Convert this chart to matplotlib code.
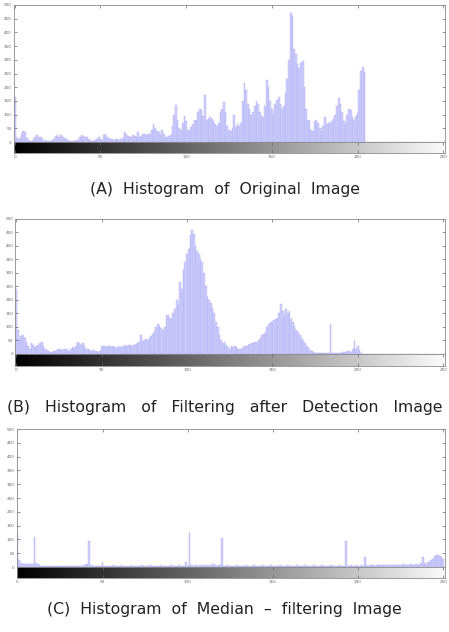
import numpy as np
import matplotlib
matplotlib.use('Agg')
import matplotlib.pyplot as plt

plt.rcParams['font.family'] = ['DejaVu Sans']

# gray levels 0..255 (one bin each)
levels = np.arange(256)

hist_a = [
    165, 20, 12, 15, 30, 40, 35, 15, 8, 5, 5, 10, 20, 25, 18, 20,
    15, 5, 8, 3, 5, 4, 6, 10, 22, 25, 20, 25, 18, 15, 10, 8,
    5, 4, 3, 5, 6, 8, 20, 25, 22, 18, 20, 12, 6, 5, 4, 8,
    10, 18, 12, 8, 25, 28, 20, 15, 12, 10, 8, 12, 10, 6, 10, 15,
    35, 30, 22, 20, 18, 25, 22, 20, 35, 20, 22, 28, 30, 25, 28, 30,
    45, 65, 50, 40, 35, 25, 45, 30, 20, 18, 22, 25, 60, 100, 135, 80,
    50, 45, 70, 95, 75, 45, 40, 55, 65, 80, 75, 110, 120, 115, 95, 170,
    80, 85, 90, 85, 75, 65, 60, 70, 110, 120, 145, 110, 60, 45, 40, 50,
    100, 55, 65, 60, 70, 150, 215, 190, 140, 120, 100, 110, 130, 150, 140, 110,
    95, 90, 130, 225, 200, 150, 120, 100, 140, 155, 165, 140, 120, 130, 180, 230,
    300, 470, 460, 340, 320, 285, 270, 290, 295, 200, 120, 80, 75, 45, 40, 75,
    80, 70, 50, 40, 60, 90, 65, 70, 68, 75, 85, 100, 130, 160, 140, 110,
    75, 65, 100, 120, 115, 90, 80, 95, 105, 190, 260, 275, 255, 0, 0, 0,
    0, 0, 0, 0, 0, 0, 0, 0, 0, 0, 0, 0, 0, 0, 0, 0,
    0, 0, 0, 0, 0, 0, 0, 0, 0, 0, 0, 0, 0, 0, 0, 0,
    0, 0, 0, 0, 0, 0, 0, 0, 0, 0, 0, 0, 0, 0, 0, 0,
]

hist_b = [
    240, 90, 55, 65, 70, 60, 45, 30, 20, 40, 35, 25, 30, 35, 40, 45,
    30, 20, 15, 10, 8, 8, 10, 12, 15, 20, 18, 15, 20, 18, 15, 12,
    20, 25, 22, 30, 45, 40, 35, 40, 30, 20, 18, 15, 12, 15, 10, 12,
    8, 10, 25, 28, 30, 25, 28, 30, 26, 28, 25, 22, 28, 25, 25, 30,
    32, 30, 35, 32, 30, 35, 38, 40, 45, 70, 45, 50, 55, 50, 60, 65,
    75, 85, 100, 110, 105, 95, 90, 100, 140, 145, 135, 130, 150, 165, 200, 180,
    265, 240, 310, 340, 370, 390, 440, 460, 445, 400, 380, 370, 350, 340, 300, 250,
    210, 200, 190, 170, 150, 120, 100, 70, 50, 40, 45, 35, 25, 20, 28, 25,
    30, 25, 20, 18, 20, 25, 30, 28, 35, 38, 40, 42, 45, 45, 50, 60,
    70, 75, 80, 100, 110, 120, 118, 125, 130, 135, 150, 185, 160, 140, 165, 150,
    160, 130, 120, 105, 90, 80, 70, 60, 50, 40, 30, 25, 15, 10, 8, 5,
    5, 4, 5, 4, 5, 3, 4, 5, 110, 5, 3, 2, 2, 3, 5, 8,
    6, 8, 10, 12, 8, 20, 48, 20, 30, 15, 5, 0, 0, 0, 0, 0,
    0, 0, 0, 0, 0, 0, 0, 0, 0, 0, 0, 0, 0, 0, 0, 0,
    0, 0, 0, 0, 0, 0, 0, 0, 0, 0, 0, 0, 0, 0, 0, 0,
    0, 0, 0, 0, 0, 0, 0, 0, 0, 0, 0, 0, 0, 0, 0, 0,
]

hist_c = [
    120, 25, 15, 12, 10, 12, 10, 12, 10, 12, 108, 15, 10, 8, 4, 3,
    4, 3, 2, 4, 3, 5, 3, 4, 2, 3, 4, 3, 5, 3, 4, 3,
    4, 5, 3, 4, 3, 5, 4, 6, 8, 10, 95, 6, 4, 3, 5, 4,
    3, 5, 18, 4, 3, 5, 4, 3, 6, 4, 3, 5, 4, 6, 3, 4,
    5, 3, 4, 6, 5, 3, 4, 5, 3, 6, 4, 3, 5, 4, 6, 3,
    4, 5, 3, 4, 6, 5, 4, 3, 5, 4, 6, 3, 5, 4, 3, 6,
    4, 5, 3, 18, 4, 122, 6, 5, 4, 6, 5, 8, 4, 6, 5, 7,
    5, 6, 4, 12, 6, 5, 8, 6, 105, 5, 4, 6, 5, 4, 3, 5,
    4, 6, 5, 3, 4, 5, 6, 4, 3, 5, 4, 6, 5, 4, 3, 5,
    6, 4, 5, 3, 4, 6, 5, 4, 3, 5, 6, 4, 5, 3, 4, 6,
    5, 4, 3, 5, 6, 4, 5, 3, 4, 6, 5, 4, 3, 5, 6, 4,
    5, 3, 4, 6, 5, 4, 3, 5, 6, 4, 5, 3, 4, 6, 5, 4,
    3, 95, 5, 4, 6, 5, 4, 6, 5, 4, 6, 5, 35, 6, 5, 7,
    6, 8, 5, 7, 6, 8, 7, 6, 8, 7, 9, 6, 8, 7, 9, 8,
    7, 9, 8, 10, 7, 9, 8, 10, 9, 8, 10, 9, 12, 15, 38, 15,
    12, 18, 20, 25, 30, 40, 45, 45, 40, 35, 30, 0, 0, 0, 0, 0,
]

captions = [
    "(A)  Histogram  of  Original  Image",
    "(B)   Histogram   of   Filtering   after   Detection   Image",
    "(C)  Histogram  of  Median  \u2013  filtering  Image",
]

y_ticks = [0, 50, 100, 150, 200, 250, 300, 350, 400, 450, 500]
x_ticks = [0, 50, 100, 150, 200, 250]

fig = plt.figure(figsize=(4.49, 6.32), dpi=100)

# (main axes rect, gradient rect, caption y)
layout = [
    ([0.031, 0.7753, 0.960, 0.2168], [0.031, 0.7579, 0.960, 0.0174], 0.700),
    ([0.034, 0.4399, 0.957, 0.2136], [0.034, 0.4209, 0.957, 0.0190], 0.356),
    ([0.037, 0.1028, 0.954, 0.2184], [0.037, 0.0854, 0.954, 0.0174], 0.036),
]
spine_col = '#8a8a8a'

for hist, (rect, grect, cy), cap in zip([hist_a, hist_b, hist_c], layout, captions):
    ax = fig.add_axes(rect)
    ax.bar(levels, hist, width=1.0, color='#d0d0fc', edgecolor='#aeaef5', linewidth=0.3)
    ax.set_xlim(-0.5, 251)
    ax.set_ylim(0, 500)
    ax.set_yticks(y_ticks)
    ax.set_xticks(x_ticks)
    ax.tick_params(axis='y', direction='in', left=True, right=True, length=2,
                   width=0.5, labelsize=3, colors='#666666', pad=1.5)
    ax.tick_params(axis='x', direction='in', top=True, bottom=False, labelbottom=False,
                   length=2, width=0.5, colors='#666666')
    for s in ax.spines.values():
        s.set_color(spine_col)
        s.set_linewidth(0.6)

    gax = fig.add_axes(grect)
    gax.imshow(levels[None, :], cmap='gray', aspect='auto', extent=(-0.5, 255.5, 0, 1))
    gax.set_xlim(-0.5, 251)
    gax.set_ylim(0, 1)
    gax.set_yticks([])
    gax.set_xticks(x_ticks)
    gax.tick_params(axis='x', direction='in', top=True, bottom=True, length=2,
                    width=0.5, labelsize=3, colors='#666666', pad=1.5)
    for s in gax.spines.values():
        s.set_color(spine_col)
        s.set_linewidth(0.6)

    fig.text(0.5, cy, cap, ha='center', va='center', fontsize=11.3, color='#222222')

fig.savefig('out.png', dpi=100)
